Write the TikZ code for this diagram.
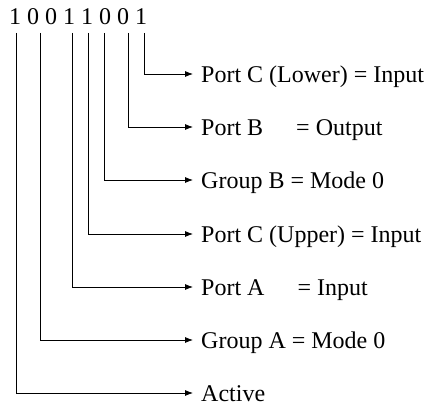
\documentclass[tikz,border=0pt]{standalone}
\usepackage{fontspec}
\setmainfont{Liberation Serif}
\usetikzlibrary{arrows.meta}
\tikzstyle{setting} = [anchor=west, inner xsep=8pt, inner ysep=0pt, text height=17pt, text depth=0pt]
\tikzstyle{bitline} = [line width=0.8pt]

\begin{document}
\begin{tikzpicture}[x=1pt, y=-1pt, >={Latex[length=8pt,width=6pt]}, font=\fontsize{24}{28}\selectfont]
\useasboundingbox (0,0) rectangle (434,409);
   \node (Bits) at (9,25) [anchor=base west, inner sep=0pt] {1 0 0 1 1 0 0 1};

   \coordinate (BitSeven) at (16.7,33);
   \coordinate (BitSix) at (40.7,33);
   \coordinate (BitFive) at (72.7,33);
   \coordinate (BitFour) at (88.3,33);
   \coordinate (BitThree) at (104.3,33);
   \coordinate (BitTwo) at (128.3,33);
   \coordinate (BitOne) at (144.3,33);

   \node (PortCLower) at (193,74) [setting] {Port C (Lower) = Input};
   \node (PortB) at (193,127) [setting] {Port B\hspace{33pt}= Output};
   \node (GroupB) at (193,180) [setting] {Group B = Mode 0};
   \node (PortCUpper) at (193,234) [setting] {Port C (Upper) = Input};
   \node (PortA) at (193,287) [setting] {Port A\hspace{33pt}= Input};
   \node (GroupA) at (193,340) [setting] {Group A = Mode 0};
   \node (Active) at (193,393) [setting] {Active};

   \draw[bitline, ->] (BitOne) |- (PortCLower.west);
   \draw[bitline, ->] (BitTwo) |- (PortB.west);
   \draw[bitline, ->] (BitThree) |- (GroupB.west);
   \draw[bitline, ->] (BitFour) |- (PortCUpper.west);
   \draw[bitline, ->] (BitFive) |- (PortA.west);
   \draw[bitline, ->] (BitSix) |- (GroupA.west);
   \draw[bitline, ->] (BitSeven) |- (Active.west);

\end{tikzpicture}
\end{document}
